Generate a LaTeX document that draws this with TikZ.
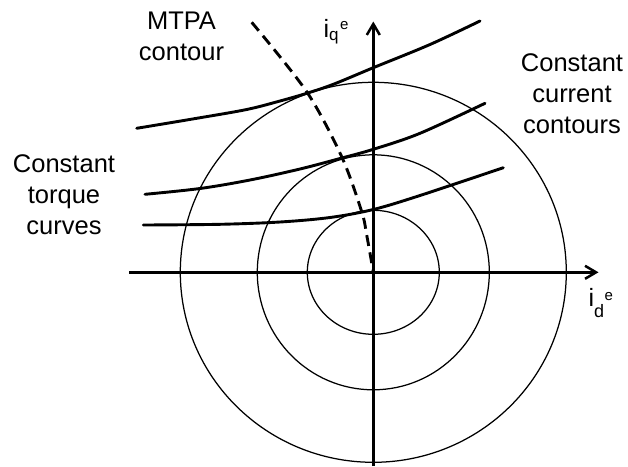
\documentclass[tikz,border=0pt]{standalone}
\usepackage{fontspec}
\setmainfont{Liberation Sans}
\usetikzlibrary{arrows.meta}
\begin{document}
\begin{tikzpicture}[x=1pt,y=-1pt,
  axis/.style={line width=2.5pt,-{Straight Barb[length=11pt,width=13pt]}},
  ring/.style={line width=1.25pt},
  torque/.style={line width=2.9pt,line cap=round},
  mtpa/.style={line width=2.9pt,dash pattern=on 11pt off 6.5pt},
  lbl/.style={inner sep=0pt,align=center,font=\fontsize{25.5}{31}\selectfont},
  axlbl/.style={inner sep=0pt,anchor=base west,font=\fontsize{25}{25}\selectfont}]
\useasboundingbox (0,0) rectangle (628,466);
\coordinate (O) at (373.3,272.3);
\coordinate (xl) at (129.3,272.3);
\coordinate (xr) at (598.5,272.3);
\coordinate (yb) at (373.3,466);
\coordinate (yt) at (373.3,21.5);
% current circles
\draw[ring] (O) ellipse[x radius=66, y radius=62];
\draw[ring] (O) ellipse[x radius=116, y radius=117.5];
\draw[ring] (O) ellipse[x radius=193, y radius=190];
% axes
\draw[axis] (xl) -- (xr);
\draw[axis] (yb) -- (yt);
% torque curves
\draw[torque] plot[smooth,tension=0.55] coordinates {(136.7,128.3) (196.7,118.3) (246.7,109.5) (280,101) (306.7,93.3) (333.3,84.3) (373.3,67.7) (430,44.5) (480,21)};
\draw[torque] plot[smooth,tension=0.55] coordinates {(145,194.3) (200,188.5) (250,180) (300,169) (340,158.5) (373.3,149.3) (420,133.3) (485,103.3)};
\draw[torque] plot[smooth,tension=0.55] coordinates {(143.3,225) (220,224.3) (280,222) (330,217.5) (373.3,209.5) (420,195.5) (503.3,167.7)};
% MTPA
\draw[mtpa] plot[smooth] coordinates {(251.7,22.3) (306.7,91.7) (341.7,156.7) (361.7,211.7) (366.7,235) (373.3,272)};
% labels
\node[lbl,anchor=north] (mtpa) at (181.5,11.5) {MTPA\\contour};
\node[lbl,anchor=north] (cc) at (572,53) {Constant\\current\\contours};
\node[lbl,anchor=north] (ct) at (64,154) {Constant\\torque\\curves};
\node[axlbl] (iq) at (323.3,37.7) {i\raisebox{-3pt}{\fontsize{17}{17}\selectfont q}\hspace{1.5pt}\raisebox{8.7pt}{\fontsize{15}{15}\selectfont e}};
\node[axlbl] (id) at (588.3,306.7) {i\raisebox{-10.5pt}{\fontsize{18}{18}\selectfont d}\hspace{0.5pt}\raisebox{6.7pt}{\fontsize{15}{15}\selectfont e}};
\end{tikzpicture}
\end{document}
